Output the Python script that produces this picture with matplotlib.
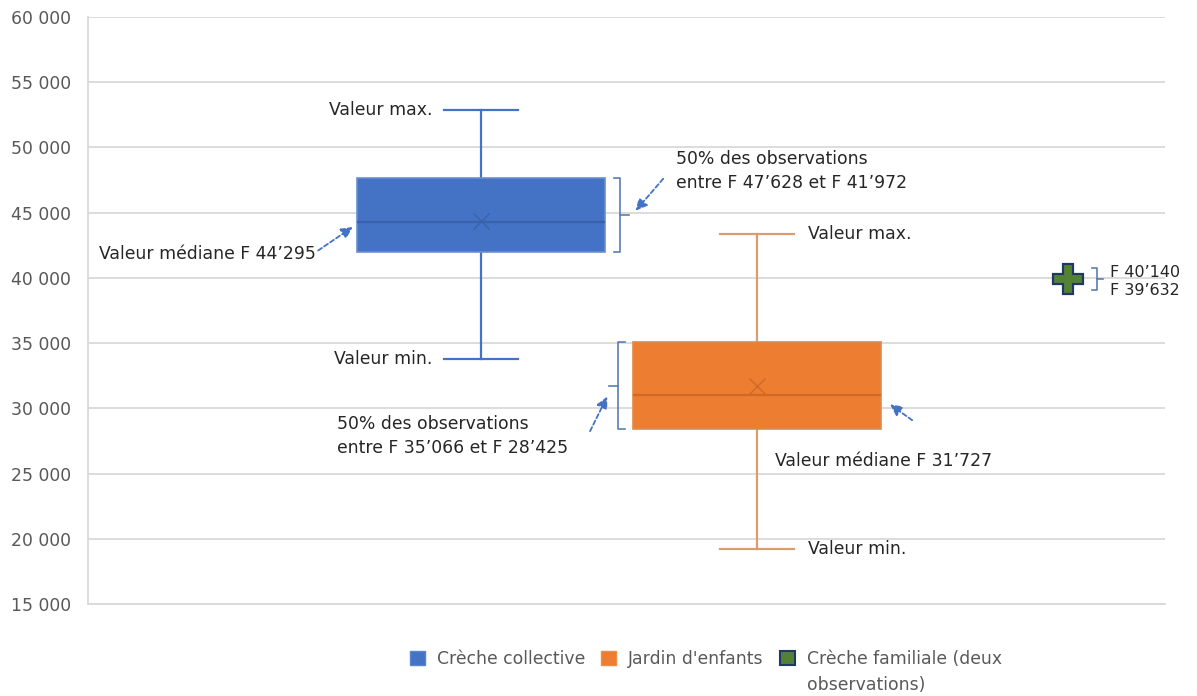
import matplotlib
matplotlib.use("Agg")
import matplotlib.pyplot as plt
from matplotlib.patches import Patch
from matplotlib.ticker import MultipleLocator, FuncFormatter

# Annual cost per place (francs) by type of childcare
categories = ["Crèche collective", "Jardin d'enfants", "Crèche familiale (deux observations)"]
box_min = [33800, 19250]
box_q1 = [41972, 28425]
box_median = [44295, 30985]
box_mean = [44380, 31727]
box_q3 = [47628, 35066]
box_max = [52850, 43350]
# family day-care has only two observations
familiale_obs = [40140, 39632]

y_min, y_max, y_step = 15000, 60000, 5000

BLUE = "#4472C4"
ORANGE = "#ED7D31"
GREEN = "#548235"
NAVY = "#203864"
TXT = "#262626"
GREY_TXT = "#595959"
GRID = "#D9D9D9"
ARROW = "#4472C4"
BRACKET = "#5B7DB8"

plt.rcParams["font.family"] = ["DejaVu Sans"]
FS = 12.4


def chf(v):
    return "F " + f"{int(round(v)):,}".replace(",", "\u2019")


fig = plt.figure(figsize=(11.97, 6.96), dpi=100)
ax = fig.add_axes([88 / 1197, 1 - 604 / 696, 1077 / 1197, 587 / 696])

pos = [1.0, 2.0, 3.127]
ax.set_xlim(-0.424, 3.478)
ax.set_ylim(y_min, y_max)

# value axis
ax.yaxis.set_major_locator(MultipleLocator(y_step))
ax.yaxis.set_major_formatter(FuncFormatter(lambda v, p: f"{int(v):,}".replace(",", " ")))
ax.tick_params(axis="y", length=0, pad=12, labelsize=FS, labelcolor=GREY_TXT)
ax.tick_params(axis="x", length=0, labelbottom=False)
ax.grid(axis="y", color=GRID, lw=1.3)
ax.set_axisbelow(True)
for side in ("top", "right"):
    ax.spines[side].set_visible(False)
for side in ("left", "bottom"):
    ax.spines[side].set_color(GRID)
    ax.spines[side].set_linewidth(1.3)

# box plots
stats = []
for i in range(2):
    stats.append(dict(med=box_median[i], q1=box_q1[i], q3=box_q3[i],
                      whislo=box_min[i], whishi=box_max[i], mean=box_mean[i],
                      fliers=[], label=categories[i]))

art = ax.bxp(stats, positions=pos[:2], widths=0.9, capwidths=0.265,
             showmeans=True, meanline=False, patch_artist=True)

styles = [
    dict(face=BLUE, edge="#6B8FD0", whisk=BLUE, med="#3A62AA", mean="#3A62AA"),
    dict(face=ORANGE, edge="#E08A4A", whisk="#DE9C6E", med="#CF6A25", mean="#CF6A25"),
]
for i, st in enumerate(styles):
    b = art["boxes"][i]
    b.set_facecolor(st["face"])
    b.set_edgecolor(st["edge"])
    b.set_linewidth(1.2)
    b.set_zorder(3)
    for ln in art["whiskers"][2 * i:2 * i + 2] + art["caps"][2 * i:2 * i + 2]:
        ln.set_color(st["whisk"])
        ln.set_linewidth(1.6)
    m = art["medians"][i]
    m.set_color(st["med"])
    m.set_linewidth(1.6)
    m.set_zorder(4)
    mn = art["means"][i]
    mn.set_marker("x")
    mn.set_markersize(11)
    mn.set_markeredgecolor(st["mean"])
    mn.set_markeredgewidth(1.0)
    mn.set_zorder(5)

# family day-care: the two observations shown as one marker
fam_mid = sum(familiale_obs) / len(familiale_obs)
ax.plot([pos[2]], [fam_mid], marker="P", markersize=21, markerfacecolor=GREEN,
        markeredgecolor=NAVY, markeredgewidth=1.6, linestyle="none", zorder=5)


def bracket(x, y0, y1, serif, tick):
    ym = (y0 + y1) / 2
    ax.plot([x + serif, x, x, x + serif], [y0, y0, y1, y1], color=BRACKET, lw=1.2, zorder=4)
    ax.plot([x, x + tick], [ym, ym], color=BRACKET, lw=1.2, zorder=4)


def arrow(tail, head):
    ax.annotate("", xy=head, xytext=tail,
                arrowprops=dict(arrowstyle="-|>", color=ARROW, lw=1.3,
                                linestyle=(0, (2.5, 1.5)), mutation_scale=17,
                                shrinkA=0, shrinkB=0), zorder=6)


# Crèche collective annotations
ax.text(pos[0] - 0.175, box_max[0], "Valeur max.", ha="right", va="center", fontsize=FS, color=TXT)
ax.text(pos[0] - 0.175, box_min[0], "Valeur min.", ha="right", va="center", fontsize=FS, color=TXT)
ax.text(0.40, 41800, "Valeur médiane " + chf(box_median[0]), ha="right", va="center",
        fontsize=FS, color=TXT)
arrow((0.41, 42100), (0.535, 43900))
bracket(pos[0] + 0.505, box_q1[0], box_q3[0], -0.025, 0.03)
ax.text(pos[0] + 0.707, 48200,
        "50% des observations\nentre " + chf(box_q3[0]) + " et " + chf(box_q1[0]),
        ha="left", va="center", fontsize=FS, color=TXT, linespacing=1.45)
arrow((pos[0] + 0.66, 47600), (pos[0] + 0.56, 45150))

# Jardin d'enfants annotations
ax.text(pos[1] + 0.185, box_max[1], "Valeur max.", ha="left", va="center", fontsize=FS, color=TXT)
ax.text(pos[1] + 0.185, box_min[1], "Valeur min.", ha="left", va="center", fontsize=FS, color=TXT)
bracket(pos[1] - 0.505, box_q1[1], box_q3[1], 0.025, -0.03)
ax.text(pos[1] - 1.522, 27880,
        "50% des observations\nentre " + chf(box_q3[1]) + " et " + chf(box_q1[1]),
        ha="left", va="center", fontsize=FS, color=TXT, linespacing=1.45)
arrow((pos[1] - 0.605, 28250), (pos[1] - 0.543, 30900))
ax.text(pos[1] + 0.065, 25985, "Valeur médiane " + chf(box_mean[1]), ha="left", va="center",
        fontsize=FS, color=TXT)
arrow((pos[1] + 0.562, 29090), (pos[1] + 0.482, 30300))

# Crèche familiale annotations
bracket(pos[2] + 0.105, fam_mid - 850, fam_mid + 850, -0.018, 0.02)
ax.text(pos[2] + 0.152, fam_mid - 150,
        chf(familiale_obs[0]) + "\n" + chf(familiale_obs[1]),
        ha="left", va="center", fontsize=11.5, color=TXT, linespacing=1.25)

# legend
handles = [
    Patch(facecolor=BLUE, edgecolor="#5A84CC", label=categories[0]),
    Patch(facecolor=ORANGE, edgecolor="#F08C45", label=categories[1]),
    Patch(facecolor=GREEN, edgecolor=NAVY, linewidth=1.5, label="Crèche familiale (deux"),
]
leg = fig.legend(handles=handles, loc="center left", bbox_to_anchor=(410 / 1197, 1 - 659 / 696),
                 ncol=3, frameon=False, fontsize=FS, handlelength=0.87, handleheight=0.87,
                 handletextpad=0.7, columnspacing=0.93, borderpad=0, borderaxespad=0)
for t in leg.get_texts():
    t.set_color(GREY_TXT)

fig.canvas.draw()
bb = leg.get_texts()[2].get_window_extent()
fig.text(bb.x0 / 1197, (bb.y0 - 26) / 696, "observations)", fontsize=FS, color=GREY_TXT,
         ha="left", va="bottom")

fig.savefig("out.png", dpi=100)
